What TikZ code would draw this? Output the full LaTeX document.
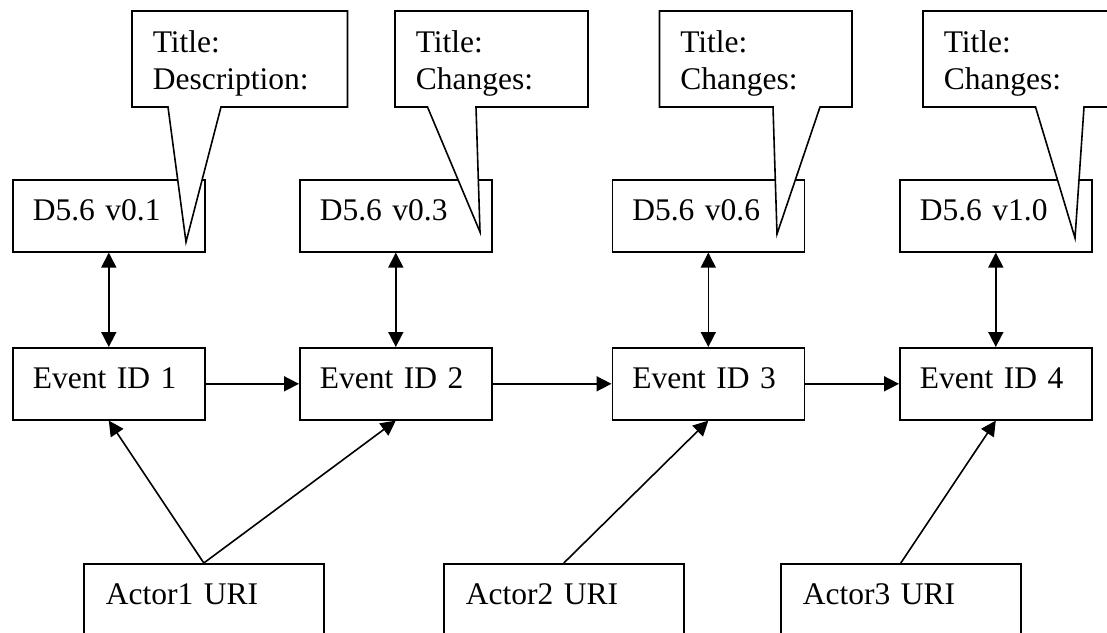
\documentclass[tikz,border=0pt]{standalone}
\usepackage{fontspec}
\setmainfont{Liberation Serif}
\usetikzlibrary{arrows.meta}
\newlength{\du}
\setlength{\du}{0.5pt}

\begin{document}
\begin{tikzpicture}[x=1\du,y=-1\du,
  line width=0.8pt,
  >={Triangle[length=7.5pt,width=7.5pt]},
  every node/.style={font=\fontsize{15.75pt}{18.8pt}\selectfont},
  box/.style={draw, anchor=north west, inner xsep=10pt, inner ysep=10pt,
    text height=10.5pt, text depth=5.5pt, text width=76pt, align=left},
  actorbox/.style={box, inner xsep=11pt, text width=98pt, text depth=25pt},
  note/.style={draw, fill=white, line join=miter},
  notetext/.style={anchor=north west, inner xsep=10pt, inner ysep=9.25pt, align=left}]
\useasboundingbox (0,0) rectangle (1107,632);
\clip (0,0) rectangle (1107,632);
% versions
\node[box] (d1) at (12,179) {D5.6 v0.1};
\node[box] (d2) at (299,179) {D5.6 v0.3};
\node[box] (d3) at (611.5,179) {D5.6 v0.6};
\node[box] (d4) at (899,179) {D5.6 v1.0};
% events
\node[box] (e1) at (12,347) {Event ID 1};
\node[box] (e2) at (299,347) {Event ID 2};
\node[box] (e3) at (611.5,347) {Event ID 3};
\node[box] (e4) at (899,347) {Event ID 4};
% actors
\node[actorbox] (a1) at (83,563) {Actor1 URI};
\node[actorbox] (a2) at (443,563) {Actor2 URI};
\node[actorbox] (a3) at (780,563) {Actor3 URI};
% links
\foreach \i in {1,...,4}
  \draw[<->] (d\i) -- (e\i);
\draw[->] (e1) -- (e2);
\draw[->] (e2) -- (e3);
\draw[->] (e3) -- (e4);
\draw[->] (a1.north) -- (e1.south);
\draw[->] (a1.north) -- (e2.south);
\draw[->] (a2.north) -- (e3.south);
\draw[->] (a3.north) -- (e4.south);
% callouts
\filldraw[note] (132,11) -- (347.5,11) -- (347.5,107) -- (221,107) -- (186,242) -- (168,107) -- (132,107) -- cycle;
\filldraw[note] (395,11) -- (588,11) -- (588,107) -- (476,107) -- (480,232) -- (427.5,107) -- (395,107) -- cycle;
\filldraw[note] (659.5,11) -- (852,11) -- (852,107) -- (820,107) -- (777,234) -- (773,107) -- (659.5,107) -- cycle;
\filldraw[note] (923,11) -- (1116,11) -- (1116,107) -- (1084,107) -- (1075,238) -- (1035.5,107) -- (923,107) -- cycle;
\node[notetext] (n1) at (132,11) {Title:\\Description:};
\node[notetext] (n2) at (395,11) {Title:\\Changes:};
\node[notetext] (n3) at (659.5,11) {Title:\\Changes:};
\node[notetext] (n4) at (923,11) {Title:\\Changes:};
\end{tikzpicture}
\end{document}
